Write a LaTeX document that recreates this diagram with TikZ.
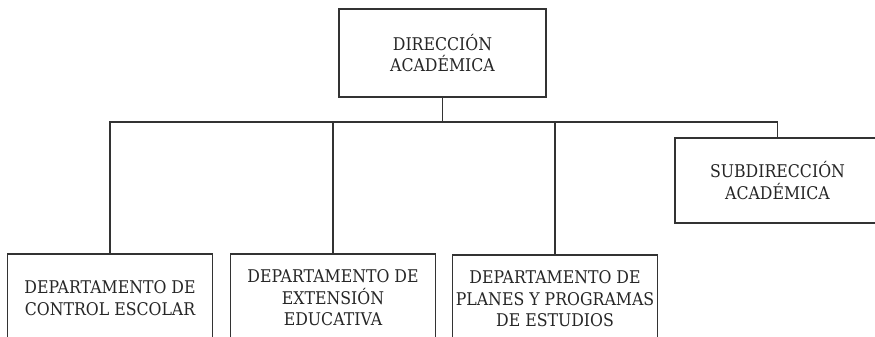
\documentclass[tikz,border=0pt]{standalone}
\usepackage{fontspec}
\setmainfont{DejaVu Serif}[FakeStretch=0.9]
\usetikzlibrary{positioning}

\begin{document}
\begin{tikzpicture}
[x=1pt,y=-1pt,%
  boxNode/.style={draw=black!80,line width=1.3pt,fill=white,align=center,
    minimum width=205pt,minimum height=88pt,inner sep=0pt,
    font=\fontsize{17.5}{21.5}\selectfont,text=black!85},%
  linkLine/.style={draw=black!80,line width=1.2pt}]
\useasboundingbox (0,0) rectangle (875,337);
%% boxes of the chart
\node[boxNode,minimum width=207pt] (dir) at (442.5,53) {DIRECCIÓN\\ACADÉMICA};
\node[boxNode,minimum height=85pt] (sub) at (777.5,180.5) {SUBDIRECCIÓN\\ACADÉMICA};
\node[boxNode] (ctrl) at (110,298) {DEPARTAMENTO DE\\CONTROL ESCOLAR};
\node[boxNode] (ext) at (333,298) {DEPARTAMENTO DE\\EXTENSIÓN\\EDUCATIVA};
\node[boxNode] (plan) at (555,299) {DEPARTAMENTO DE\\PLANES Y PROGRAMAS\\DE ESTUDIOS};
%% the bus line
\coordinate (bus) at (442.5,122);
\draw[linkLine] (dir.south) -- (dir.south |- bus);
\draw[linkLine] (ctrl.north) -- (ctrl.north |- bus) -- (sub.north |- bus) -- (sub.north);
\draw[linkLine] (ext.north) -- (ext.north |- bus);
\draw[linkLine] (plan.north) -- (plan.north |- bus);
\end{tikzpicture}
\end{document}
